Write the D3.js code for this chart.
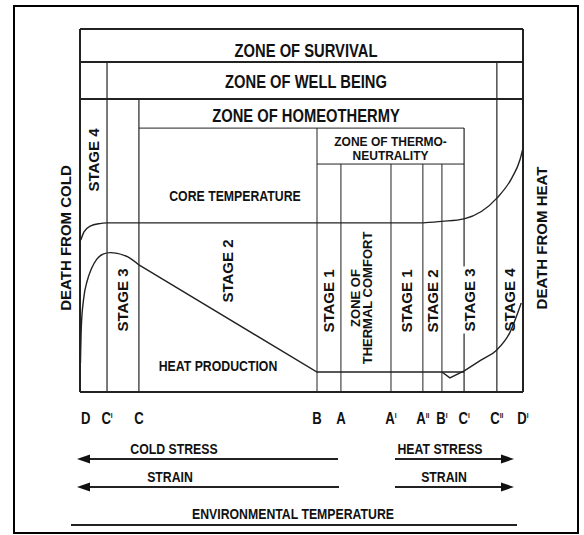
<meta charset="utf-8">
<body style="margin:0;background:#fff">
<script src="https://cdn.jsdelivr.net/npm/d3@7/dist/d3.min.js"></script>
<script>

    // temperature boundaries along the x axis (0 = death from cold, 100 = death from heat)
    var boundaryNames = ["D", "C", "C", "B", "A", "A", "A", "B", "C", "C", "D"];
    var boundarySups  = ["", "I", "", "", "", "I", "II", "I", "I", "II", "I"];
    var boundaryTemps = [0, 6.1, 13.3, 53.5, 58.9, 70.2, 77.4, 81.7, 86.7, 94.1, 100];

    // zones (index into boundaries)
    var zoneNames = ["ZONE OF SURVIVAL", "ZONE OF WELL BEING", "ZONE OF HOMEOTHERMY"];
    var zoneFrom  = [0, 1, 2];
    var zoneTo    = [10, 9, 8];

    // stages (index into boundaries)
    var stageNames = ["STAGE 4", "STAGE 3", "STAGE 2", "STAGE 1", "ZONE OF|THERMAL COMFORT",
                      "STAGE 1", "STAGE 2", "STAGE 3", "STAGE 4"];
    var stageFrom  = [0, 1, 2, 3, 4, 5, 6, 7, 9];
    var stageTo    = [1, 2, 3, 4, 5, 6, 7, 9, 10];

    // curves: [temperature, level]
    var coreCold = [[0.2, 41.9], [0.9, 44.1], [2.3, 45.7], [4.5, 46.4], [6.1, 46.6]];
    var coreFlat = [[6.1, 46.6], [77.4, 46.6]];
    var coreHot  = [[77.4, 46.6], [81.7, 47.0], [86.7, 47.7], [94.1, 53.4], [97.5, 59.0], [99.3, 63.9], [100, 67.2]];

    var heatCold = [[0.1, 8], [0.3, 18], [0.8, 25.5], [1.6, 30.5], [2.6, 34.0], [3.8, 36.6], [5.2, 38.0], [6.8, 38.4], [8.4, 38.2], [10.8, 37.2], [13.3, 35.0]];
    var heatFall = [[13.3, 35.0], [53.5, 5.5], [86.7, 5.5]];
    var heatDip  = [[81.7, 5.5], [83.5, 3.9], [86.7, 5.8]];
    var heatHot  = [[86.7, 5.8], [90.5, 8.8], [94.1, 11.6], [97.0, 16.3], [99.6, 24.5]];

    var W = 584, H = 535;
    var wide = "'Liberation Sans', Arial, sans-serif";

    var svg = d3.select("body").append("svg")
        .attr("width", W).attr("height", H)
        .style("display", "block");

    var x = d3.scaleLinear().domain([0, 100]).range([80, 523]);
    var y = d3.scaleLinear().domain([0, 100]).range([392, 29]);

    // header rows (levels)
    var rowLevels = [100, 90.9, 80.7, 72.7, 62.8];

    // outer frame
    svg.append("rect").attr("x", 14).attr("y", 6).attr("width", 564).attr("height", 527)
        .attr("fill", "none").attr("stroke", "#000").attr("stroke-width", 2);

    var g = svg.append("g").attr("stroke", "#222").attr("fill", "none");

    function vline(t, l0, l1, w) {
        g.append("line").attr("x1", x(t)).attr("x2", x(t)).attr("y1", y(l0)).attr("y2", y(l1))
            .attr("stroke-width", w || 1);
    }
    function hline(t0, t1, l, w) {
        g.append("line").attr("x1", x(t0)).attr("x2", x(t1)).attr("y1", y(l)).attr("y2", y(l))
            .attr("stroke-width", w || 1);
    }

    // zone boxes: left / right edges
    zoneNames.forEach(function (z, i) {
        vline(boundaryTemps[zoneFrom[i]], rowLevels[i], 0, i === 0 ? 2 : 1.2);
        vline(boundaryTemps[zoneTo[i]], i === 2 ? rowLevels[3] : rowLevels[i], 0, i === 0 ? 2 : 1.2);
    });

    hline(0, 100, rowLevels[0], 2);
    hline(0, 100, rowLevels[1], 2);
    hline(0, 100, rowLevels[2], 2);
    hline(0, 100, 0, 2.2);
    hline(boundaryTemps[2], boundaryTemps[8], rowLevels[3], 1);
    hline(boundaryTemps[3], boundaryTemps[8], rowLevels[4], 1);
    vline(boundaryTemps[3], rowLevels[3], 0, 1);
    [4, 5, 6, 7].forEach(function (b) { vline(boundaryTemps[b], rowLevels[4], 0, 1); });

    // curves
    var lineSmooth = d3.line().x(function (d) { return x(d[0]); }).y(function (d) { return y(d[1]); })
        .curve(d3.curveMonotoneX);
    var lineStraight = d3.line().x(function (d) { return x(d[0]); }).y(function (d) { return y(d[1]); });

    [coreCold, coreHot, heatCold, heatHot].forEach(function (c) {
        g.append("path").attr("d", lineSmooth(c)).attr("stroke-width", 1.4);
    });
    [coreFlat, heatFall, heatDip].forEach(function (c) {
        g.append("path").attr("d", lineStraight(c)).attr("stroke-width", 1.4);
    });

    var txt = svg.append("g").attr("fill", "#111").attr("font-weight", "bold")
        .attr("font-family", wide);

    // condensed text: Liberation Sans squeezed horizontally
    function ntext(px, py, size, str, anchor, sx) {
        return txt.append("text")
            .attr("transform", "translate(" + px + "," + py + ") scale(" + (sx || 0.82) + ",1)")
            .attr("text-anchor", anchor || "middle").attr("font-size", size)
            .text(str);
    }

    // zone titles
    var zoneTitleY = [57, 88, 122];
    zoneNames.forEach(function (z, i) { ntext(306, zoneTitleY[i], 18, z); });
    var thermoX = (x(boundaryTemps[3]) + x(boundaryTemps[8])) / 2;
    ntext(thermoX, 146, 12.5, "ZONE OF THERMO-", "middle", 0.96);
    ntext(thermoX, 160, 12.5, "NEUTRALITY", "middle", 0.96);

    ntext(235, 201, 15, "CORE TEMPERATURE");
    ntext(218, 371, 15, "HEAT PRODUCTION");

    // stage labels (vertical)
    var stageCenterY = [160, 300, 271, 301, 298, 301, 301, 300, 300];
    stageNames.forEach(function (s, i) {
        var cx = (x(boundaryTemps[stageFrom[i]]) + x(boundaryTemps[stageTo[i]])) / 2;
        var lines = s.split("|");
        var fs = lines.length > 1 ? 13 : 15;
        if (lines.length > 1) cx -= 5;
        var t = txt.append("g").attr("transform", "translate(" + cx + "," + stageCenterY[i] + ") rotate(-90)");
        var el = t.append("text").attr("text-anchor", "middle").attr("font-size", fs);
        lines.forEach(function (l, k) {
            el.append("tspan").attr("x", 0)
                .attr("y", (k - (lines.length - 1) / 2) * 12 + fs * 0.36)
                .text(l);
        });
        if (i === 7) {
            var bb = el.node().getBBox();
            t.insert("rect", "text").attr("x", bb.x - 2).attr("y", bb.y).attr("width", bb.width + 4)
                .attr("height", bb.height).attr("fill", "#fff");
        }
    });

    // death labels
    [["DEATH FROM COLD", 65], ["DEATH FROM HEAT", 541]].forEach(function (d) {
        txt.append("text").attr("transform", "translate(" + d[1] + ",238) rotate(-90)")
            .attr("y", 5.5).attr("text-anchor", "middle")
            .attr("font-size", 15).text(d[0]);
    });

    // boundary letters
    boundaryNames.forEach(function (b, i) {
        var t = ntext(x(boundaryTemps[i]) + (i === 0 ? 1 : 0), 424, 16, null, i === 0 ? "start" : "middle");
        t.append("tspan").text(b);
        if (boundarySups[i]) t.append("tspan").attr("font-size", 8).attr("dy", -6).text(boundarySups[i]);
    });

    // arrows
    function arrow(x0, x1, yy) {
        var dir = x1 > x0 ? 1 : -1;
        g.append("line").attr("x1", x0).attr("x2", x1 - dir * 10).attr("y1", yy).attr("y2", yy)
            .attr("stroke-width", 2);
        svg.append("path").attr("d", "M" + x1 + "," + yy + "L" + (x1 - dir * 13) + "," + (yy - 4.5) +
            "L" + (x1 - dir * 13) + "," + (yy + 4.5) + "Z").attr("fill", "#111");
    }
    arrow(338, 77, 459);
    arrow(339, 77, 487);
    arrow(395, 514, 459);
    arrow(395, 514, 487);

    [["COLD STRESS", 174, 454], ["STRAIN", 170, 482], ["HEAT STRESS", 440, 454], ["STRAIN", 444, 482],
     ["ENVIRONMENTAL TEMPERATURE", 293, 519]].forEach(function (d) {
        ntext(d[1], d[2], 15, d[0]);
    });
    g.append("line").attr("x1", 71).attr("x2", 517).attr("y1", 525).attr("y2", 525).attr("stroke-width", 2);

</script>
</body>
